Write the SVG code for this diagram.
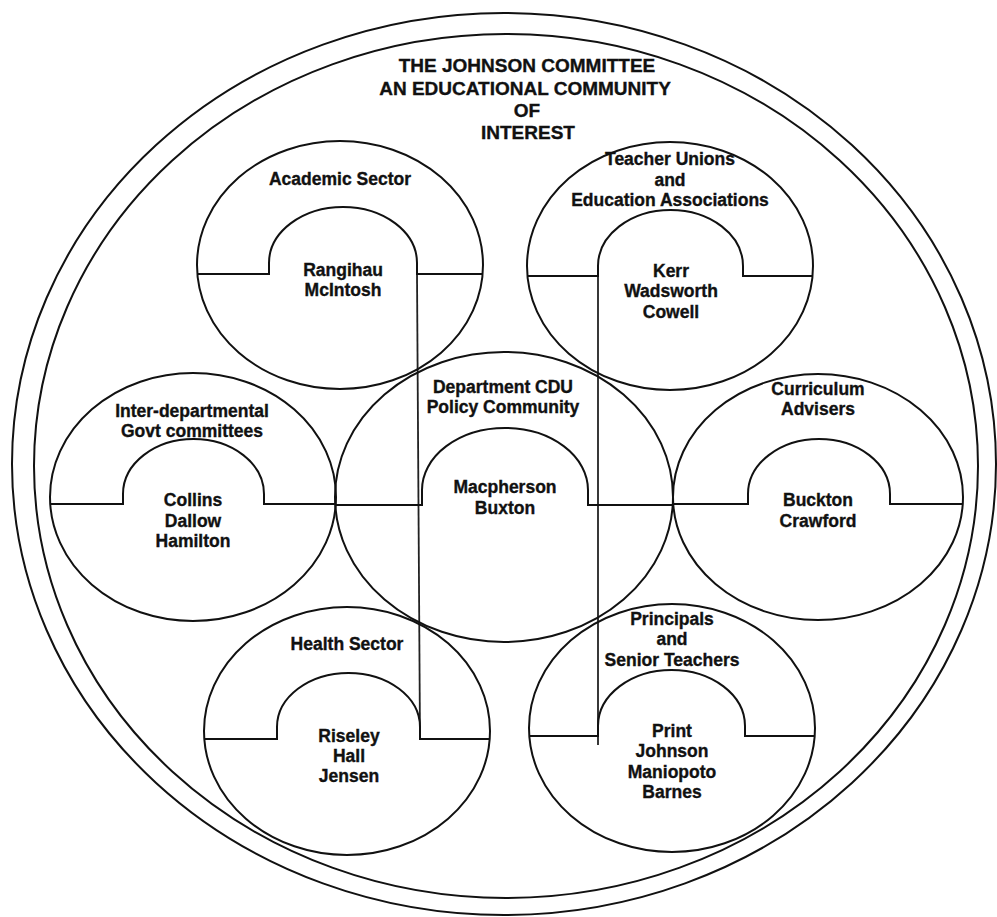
<svg xmlns="http://www.w3.org/2000/svg" width="997" height="917" viewBox="0 0 997 917">
<style>
.ln{fill:none;stroke:#111;stroke-width:2}
.cn{fill:none;stroke:#222;stroke-width:1.8}
text{font-family:"Liberation Sans",Arial,sans-serif;font-weight:bold;fill:#111;stroke:#111;stroke-width:0.35;text-anchor:middle}
.t{font-size:19px}
.n{font-size:17.5px}
</style>
<rect width="997" height="917" fill="#fff"/>
<g id="rings">
<ellipse class="ln" cx="504" cy="464" rx="492" ry="451"/>
<ellipse class="ln" cx="506" cy="466" rx="472" ry="432"/>
</g>
<g id="title">
<text class="t" x="527" y="72">THE JOHNSON COMMITTEE</text>
<text class="t" x="525" y="95">AN EDUCATIONAL COMMUNITY</text>
<text class="t" x="527" y="117">OF</text>
<text class="t" x="528" y="139">INTEREST</text>
</g>
<g id="connectors">
<line class="cn" x1="417" y1="274" x2="420" y2="739"/>
<line class="cn" x1="598" y1="276" x2="598" y2="745"/>
</g>
<g id="academic">
<ellipse class="ln" cx="340" cy="265" rx="143" ry="124"/>
<path class="ln" d="M197.4 274H269V263A74 56 0 0 1 417 263V274H482.6"/>
<text class="n" x="340" y="185">Academic Sector</text>
<text class="n" x="343" y="276">Rangihau</text>
<text class="n" x="343" y="296">McIntosh</text>
</g>
<g id="teachers">
<ellipse class="ln" cx="670" cy="266" rx="143" ry="124"/>
<path class="ln" d="M527.5 276H598V266A72.5 56 0 0 1 743 266V276H812.5"/>
<text class="n" x="670" y="165">Teacher Unions</text>
<text class="n" x="670" y="186">and</text>
<text class="n" x="670" y="206">Education Associations</text>
<text class="n" x="671" y="277">Kerr</text>
<text class="n" x="671" y="297">Wadsworth</text>
<text class="n" x="671" y="318">Cowell</text>
</g>
<g id="department">
<ellipse class="ln" cx="504" cy="497" rx="169" ry="145"/>
<path class="ln" d="M335.3 505H422V490A83 62 0 0 1 588 490V505H672.7"/>
<text class="n" x="503" y="393">Department CDU</text>
<text class="n" x="503" y="413">Policy Community</text>
<text class="n" x="505" y="493">Macpherson</text>
<text class="n" x="505" y="514">Buxton</text>
</g>
<g id="interdepartmental">
<ellipse class="ln" cx="193" cy="497" rx="143" ry="124"/>
<path class="ln" d="M50.2 504H123V494A70.5 55 0 0 1 264 494V504H335.8"/>
<text class="n" x="192" y="417">Inter-departmental</text>
<text class="n" x="192" y="437">Govt committees</text>
<text class="n" x="193" y="506">Collins</text>
<text class="n" x="193" y="527">Dallow</text>
<text class="n" x="193" y="547">Hamilton</text>
</g>
<g id="curriculum">
<ellipse class="ln" cx="818" cy="497" rx="145" ry="123"/>
<path class="ln" d="M673.2 504H748V494A71 55 0 0 1 890 494V504H962.8"/>
<text class="n" x="818" y="395">Curriculum</text>
<text class="n" x="818" y="415">Advisers</text>
<text class="n" x="818" y="506">Buckton</text>
<text class="n" x="818" y="527">Crawford</text>
</g>
<g id="health">
<ellipse class="ln" cx="347" cy="731" rx="143" ry="124"/>
<path class="ln" d="M204.3 739H277V727A71.5 54 0 0 1 420 727V739H489.7"/>
<text class="n" x="347" y="650">Health Sector</text>
<text class="n" x="349" y="742">Riseley</text>
<text class="n" x="349" y="762">Hall</text>
<text class="n" x="349" y="782">Jensen</text>
</g>
<g id="principals">
<ellipse class="ln" cx="672" cy="728" rx="143" ry="124"/>
<path class="ln" d="M529.3 736H598V726A73.5 56 0 0 1 745 726V736H814.7"/>
<text class="n" x="672" y="625">Principals</text>
<text class="n" x="672" y="645">and</text>
<text class="n" x="672" y="666">Senior Teachers</text>
<text class="n" x="672" y="737">Print</text>
<text class="n" x="672" y="757">Johnson</text>
<text class="n" x="672" y="778">Maniopoto</text>
<text class="n" x="672" y="798">Barnes</text>
</g>
</svg>
